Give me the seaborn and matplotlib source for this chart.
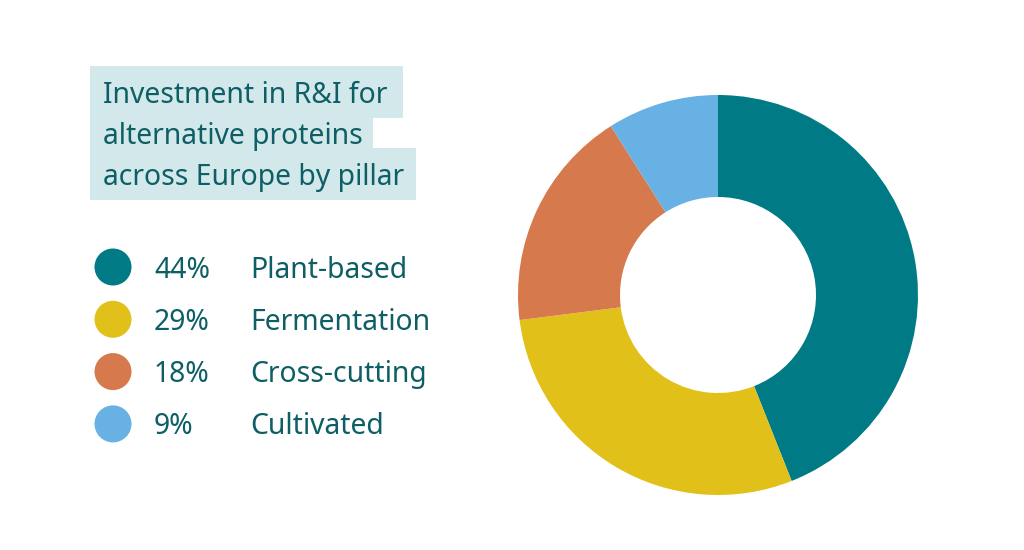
import matplotlib
matplotlib.use("Agg")
import matplotlib.pyplot as plt
from matplotlib.patches import Rectangle, Circle
import seaborn as sns

# data
pillars = ["Plant-based", "Fermentation", "Cross-cutting", "Cultivated"]
shares = [44, 29, 18, 9]
colors = ["#007b86", "#e2c01a", "#d6794d", "#68b1e4"]
title_lines = ["Investment in R&I for", "alternative proteins", "across Europe by pillar"]

sns.set_theme(style="white")
plt.rcParams["font.family"] = ["Noto Sans", "DejaVu Sans"]
txt_col = "#0d5e65"
hl_col = "#d3e8ea"

fig = plt.figure(figsize=(10.24, 5.5), dpi=100)
fig.patch.set_facecolor("white")

# overlay axes in pixel units for the title block and the legend
ov = fig.add_axes([0, 0, 1, 1])
ov.set_xlim(0, 1024)
ov.set_ylim(550, 0)
ov.axis("off")

# highlighted title, one box per line
boxes = [(90, 66, 313, 52), (90, 118, 283, 31), (90, 148, 326, 52)]
for (x, y, w, h) in boxes:
    ov.add_patch(Rectangle((x, y), w, h, color=hl_col, lw=0, zorder=1))
for i, line in enumerate(title_lines):
    ov.text(103, 103 + i * 41, line, fontsize=20.4, color=txt_col,
            va="baseline", ha="left", zorder=2)

# legend rows
for i, (lab, val, c) in enumerate(zip(pillars, shares, colors)):
    cy = 267 + i * 52.3
    ov.add_patch(Circle((113, cy), 18.5, color=c, lw=0))
    ov.text(154, cy + 10.5, f"{val}%", fontsize=20.4, color=txt_col, va="baseline")
    ov.text(250, cy + 10.5, lab, fontsize=20.4, color=txt_col, va="baseline")

# donut
ax = fig.add_axes([518 / 1024, 55 / 550, 400 / 1024, 400 / 550])
ax.pie(shares, colors=colors, startangle=90, counterclock=False,
       radius=1.0, wedgeprops=dict(width=0.51, linewidth=0))
ax.set_xlim(-1, 1)
ax.set_ylim(-1, 1)
ax.set_aspect("equal")
ax.axis("off")

fig.savefig("out.png", dpi=100, facecolor="white")
